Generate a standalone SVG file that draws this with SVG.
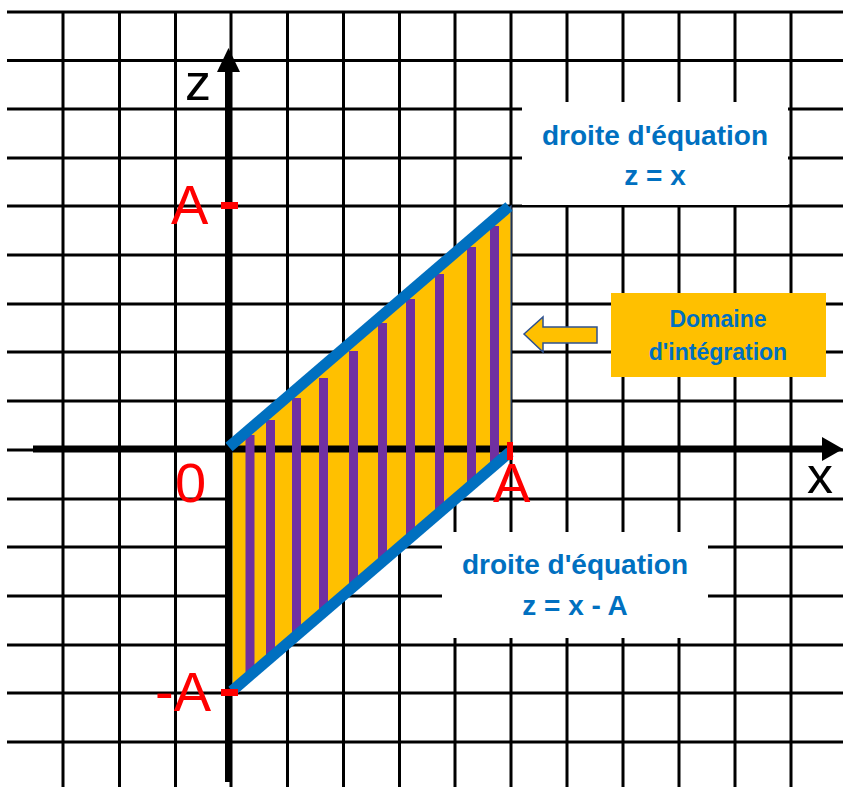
<svg xmlns="http://www.w3.org/2000/svg" width="843" height="787" viewBox="0 0 843 787">
<style>
.grid{stroke:#000;stroke-width:3;fill:none}
.lbl{font-family:"Liberation Sans",Arial,sans-serif;fill:#FF0000;font-size:56px}
.ax{font-family:"Liberation Sans",Arial,sans-serif;fill:#000;font-size:52px}
.bt{font-family:"Liberation Sans",Arial,sans-serif;font-weight:bold;fill:#0070C0;text-anchor:middle}
.bar{fill:#7030A0}
.blue{stroke:#0070C0;stroke-width:11;fill:none}
.tick{fill:#FF0000}
</style>
<rect width="843" height="787" fill="#fff"/>
<g id="grid">
<path class="grid" d="M7 12H843M7 60.5H843M7 109H843M7 158H843M7 206H843M7 255H843M7 304H843M7 352H843M7 401H843M7 450H843M7 499H843M7 547H843M7 596H843M7 645H843M7 693H843M7 742H843"/>
<path class="grid" d="M63 12V787M119.5 12V787M175.5 12V787M231 12V787M287.5 12V787M343.5 12V787M399.5 12V787M455 12V787M511 12V787M567 12V787M623 12V787M679 12V787M735 12V787M791 12V787"/>
</g>
<g id="domain">
<polygon points="232,446 511,206 511,452 232,691" fill="#FFC000" stroke="#2F528F" stroke-width="1.2"/>
</g>
<g id="axes">
<rect x="225" y="70" width="7" height="712" fill="#000"/>
<polygon points="228.5,48 217,72 240,72" fill="#000"/>
<rect x="33" y="445.5" width="790" height="7" fill="#000"/>
<polygon points="843,449 822,437 822,461" fill="#000"/>
</g>
<g id="bars">
<rect class="bar" x="245.5" y="435" width="9" height="237"/>
<rect class="bar" x="266" y="420" width="9" height="237"/>
<rect class="bar" x="292" y="398" width="9" height="236"/>
<rect class="bar" x="319" y="378" width="9" height="237"/>
<rect class="bar" x="349" y="351" width="9" height="236"/>
<rect class="bar" x="378" y="323" width="9" height="237"/>
<rect class="bar" x="406" y="299" width="9" height="237"/>
<rect class="bar" x="435" y="274" width="9" height="237"/>
<rect class="bar" x="467" y="247" width="9" height="237"/>
<rect class="bar" x="490" y="226" width="9" height="237"/>
</g>
<g id="connectors">
<line id="line-zx" class="blue" x1="229" y1="447" x2="509" y2="206.5"/>
<line id="line-zxA" class="blue" x1="232" y1="691" x2="510" y2="452"/>
<polygon id="arrow-domain" points="524,334 543,317 543,327 597,327 597,343 543,343 543,352" fill="#FFC000" stroke="#2F528F" stroke-width="1.5"/>
</g>
<g id="ticks">
<rect class="tick" x="221" y="202" width="17" height="7"/>
<rect class="tick" x="221" y="689" width="17" height="7"/>
<rect class="tick" x="507" y="442" width="6" height="18"/>
</g>
<g id="labels">
<text class="ax" x="185" y="100">z</text>
<text class="ax" x="807" y="493">x</text>
<text class="lbl" x="171" y="224">A</text>
<text class="lbl" x="175" y="502">0</text>
<text class="lbl" x="155" y="711">-A</text>
<text class="lbl" x="493" y="502">A</text>
</g>
<g id="box-zx">
<rect x="522" y="102" width="266" height="103" fill="#fff"/>
<text class="bt" x="655" y="145" font-size="28">droite d'équation</text>
<text class="bt" x="655" y="185" font-size="28">z = x</text>
</g>
<g id="box-zxA">
<rect x="442" y="532" width="266" height="106" fill="#fff"/>
<text class="bt" x="575" y="574" font-size="28">droite d'équation</text>
<text class="bt" x="575" y="615" font-size="28">z = x - A</text>
</g>
<g id="box-domaine">
<rect x="611" y="293" width="215" height="84" fill="#FFC000"/>
<text class="bt" x="718" y="327" font-size="23">Domaine</text>
<text class="bt" x="718" y="360" font-size="23">d'intégration</text>
</g>
</svg>
